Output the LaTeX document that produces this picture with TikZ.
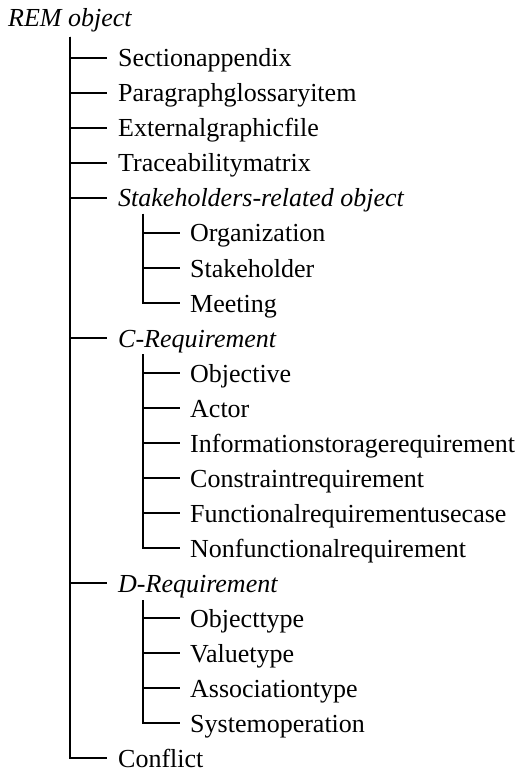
\documentclass[tikz,border=0pt]{standalone}
\usepackage{fontspec}
\setmainfont{Liberation Serif}
\begin{document}
\begin{tikzpicture}[x=1pt,y=-1pt,
  item/.style={anchor=base west, inner sep=0pt, font=\fontsize{26}{30}\selectfont},
  cat/.style={anchor=base west, inner sep=0pt, font=\fontsize{26}{30}\selectfont\itshape},
  branch/.style={line width=1.2pt, black}]
\useasboundingbox (0,0) rectangle (519,775);
% root
\node[cat] (root) at (8,27) {REM object};
\coordinate (t0) at (70,37);
% level 1
\node[item] (a1) at (118,67) {Sectionappendix};
\node[item] (a2) at (118,102) {Paragraphglossaryitem};
\node[item] (a3) at (118,137) {Externalgraphicfile};
\node[item] (a4) at (118,172) {Traceabilitymatrix};
\node[cat]  (a5) at (118,207) {Stakeholders-related object};
\node[cat]  (a6) at (118,347) {C-Requirement};
\node[cat]  (a7) at (118,592) {D-Requirement};
\node[item] (a8) at (118,767) {Conflict};
% stakeholders children
\coordinate (t1) at (143,214);
\node[item] (b1) at (190,242) {Organization};
\node[item] (b2) at (190,277) {Stakeholder};
\node[item] (b3) at (190,312) {Meeting};
% C-requirement children
\coordinate (t2) at (143,354);
\node[item] (c1) at (190,382) {Objective};
\node[item] (c2) at (190,417) {Actor};
\node[item] (c3) at (190,452) {Informationstoragerequirement};
\node[item] (c4) at (190,487) {Constraintrequirement};
\node[item] (c5) at (190,522) {Functionalrequirementusecase};
\node[item] (c6) at (190,557) {Nonfunctionalrequirement};
% D-requirement children
\coordinate (t3) at (143,600);
\node[item] (d1) at (190,627) {Objecttype};
\node[item] (d2) at (190,662) {Valuetype};
\node[item] (d3) at (190,697) {Associationtype};
\node[item] (d4) at (190,732) {Systemoperation};
% connectors
\foreach \n in {a1,a2,a3,a4,a5,a6,a7,a8}
  \draw[branch] (t0) |- ([shift={(-11,-9)}]\n.base west);
\foreach \n in {b1,b2,b3}
  \draw[branch] (t1) |- ([shift={(-10,-9)}]\n.base west);
\foreach \n in {c1,c2,c3,c4,c5,c6}
  \draw[branch] (t2) |- ([shift={(-10,-9)}]\n.base west);
\foreach \n in {d1,d2,d3,d4}
  \draw[branch] (t3) |- ([shift={(-10,-9)}]\n.base west);
\end{tikzpicture}
\end{document}
